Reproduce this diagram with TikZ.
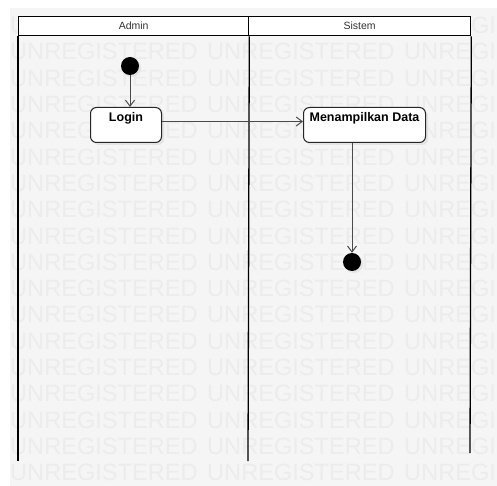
\documentclass[tikz,border=0pt]{standalone}
\usepackage{fontspec}
\setmainfont{Liberation Sans}
\usetikzlibrary{arrows.meta}
\definecolor{bgcol}{HTML}{F5F5F5}
\definecolor{wmcol}{HTML}{ECECEC}
\definecolor{shcol}{HTML}{E4E4E4}
\definecolor{linecol}{HTML}{4A4A4A}
\tikzset{
  lane/.style={draw=black, line width=1.3pt},
  header/.style={draw=black, line width=1.3pt, fill=white, inner sep=0pt, font=\fontsize{10.5}{12}\selectfont, text=black!80},
  action/.style={draw=black!85, line width=1pt, fill=white, rounded corners=6pt, inner sep=3pt,
    font=\fontsize{12.5}{14}\selectfont\bfseries, text height=11.5pt, text depth=17.5pt, anchor=north west},
  startnode/.style={circle, fill=black, minimum size=18pt, inner sep=0pt},
  flow/.style={draw=linecol, line width=1pt, -{Straight Barb[length=6pt, width=9pt, line width=1pt]}},
  wm/.style={font=\fontsize{23.6}{26}\selectfont, text=wmcol, anchor=west, inner sep=0pt}
}
\begin{document}
\begin{tikzpicture}[x=1pt, y=-1pt]
\useasboundingbox (0,0) rectangle (497,486);
\fill[bgcol] (10,8) rectangle (497,486);
\begin{scope}
\clip (10,8) rectangle (497,486);
\foreach \k in {0,...,17}{
  \node[wm] (wa\k) at (10,25.5+26.3*\k) {UNREGISTERED};
  \node[wm] (wb\k) at (207,25.5+26.3*\k) {UNREGISTERED};
  \node[wm] (wc\k) at (404,25.5+26.3*\k) {UNREGISTERED};
}
\end{scope}
% header
\node[header, minimum width=230pt, minimum height=19pt, anchor=north west] (hadmin) at (18,16) {Admin};
\node[header, minimum width=222pt, minimum height=19pt, anchor=north west] (hsistem) at (248,16) {Sistem};
% lanes
\coordinate (l0) at (18,461);
\coordinate (l1) at (248,461);
\coordinate (l2) at (470,453);
\draw[lane] (hadmin.south west) -- (l0);
\draw[lane] (hadmin.south east) -- (l1);
\draw[lane] (hsistem.south east) -- (l2);
% shadows
\fill[shcol, rounded corners=6pt] (93,110) rectangle (164,145);
\fill[shcol, rounded corners=6pt] (306,110) rectangle (428,145);
\fill[shcol] (132,68) circle (9pt);
\fill[shcol] (354,264) circle (9pt);
% nodes
\node[startnode] (start) at (130,66) {};
\node[action, minimum width=71pt] (login) at (90,107) {Login};
\node[action, minimum width=122pt] (menu) at (303,107) {Menampilkan Data};
\node[startnode] (end) at (352,262) {};
% flows
\draw[flow] (start) -- (start |- login.north);
\draw[flow] ([yshift=3.5pt]login.east) -- ([yshift=3.5pt]menu.west);
\draw[flow] (end.north |- menu.south) -- (end.north);
\end{tikzpicture}
\end{document}
